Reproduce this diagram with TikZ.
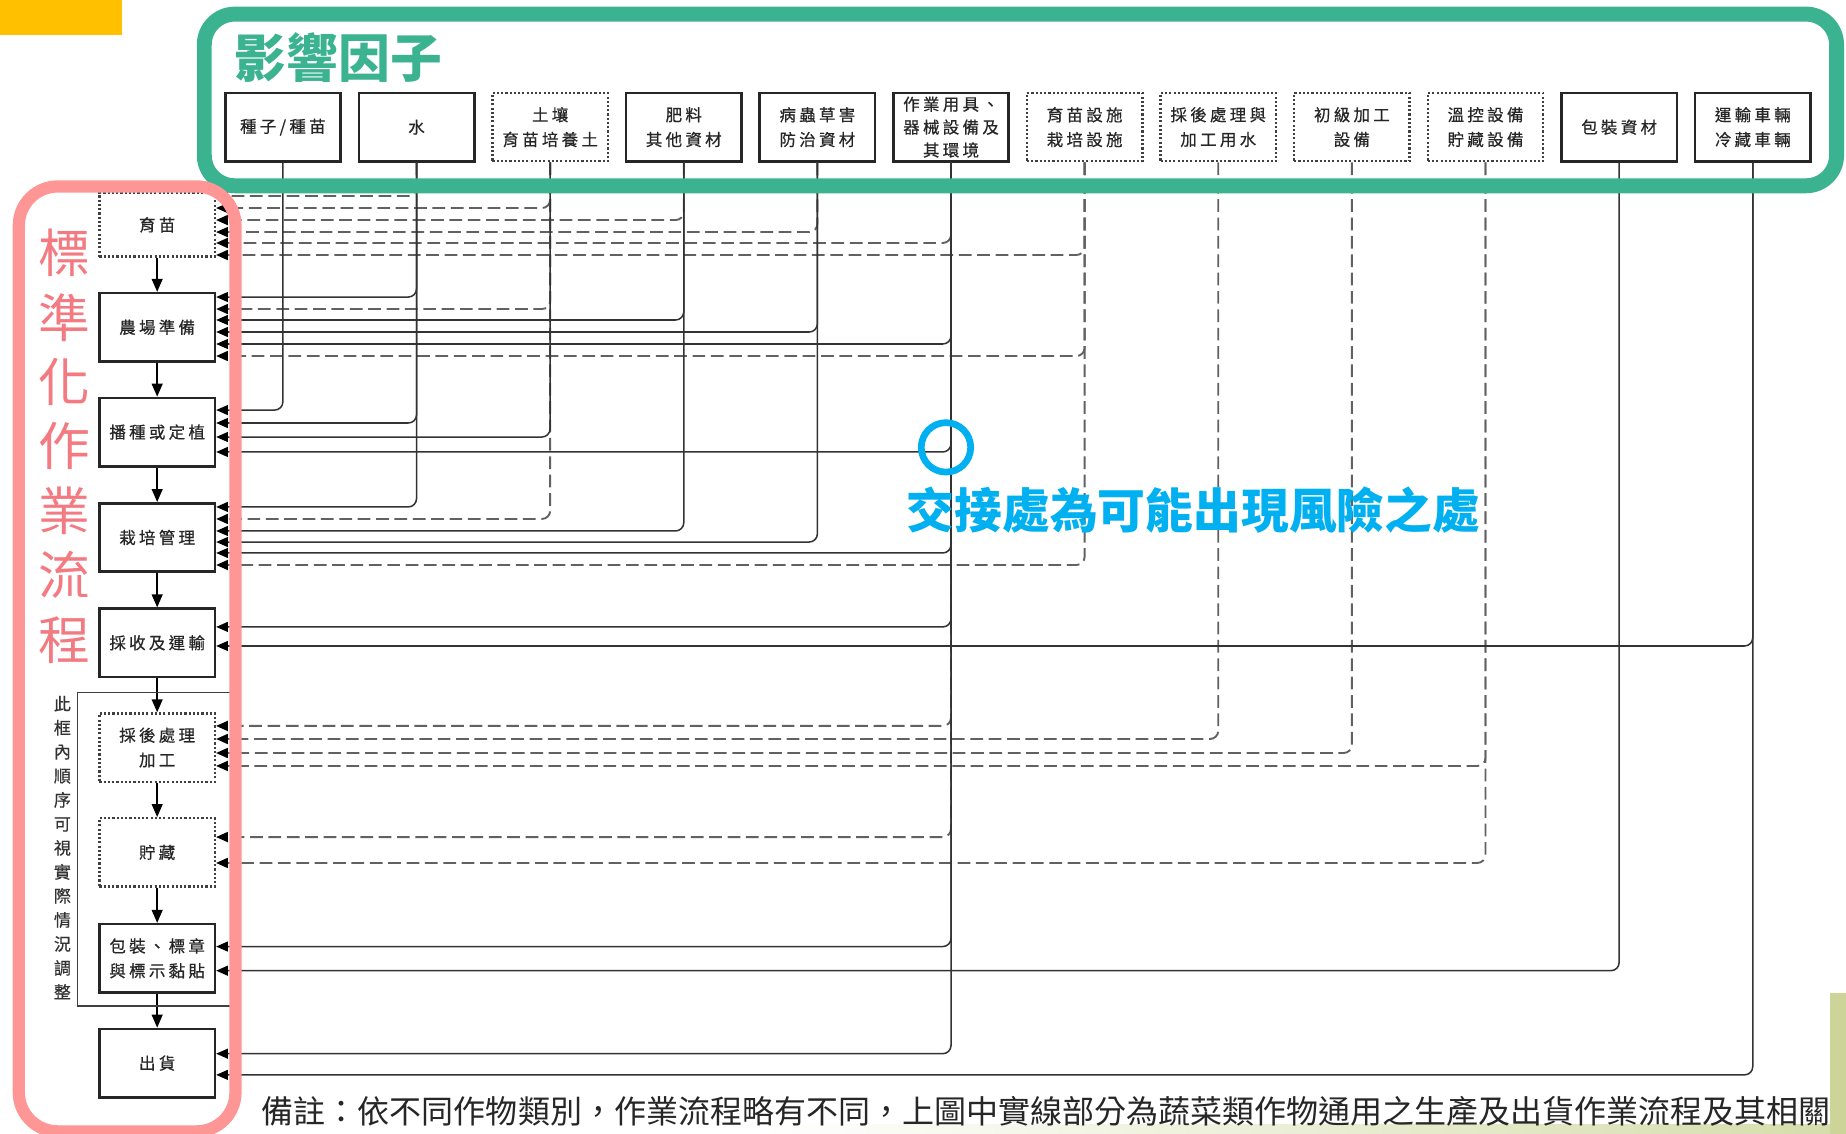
\documentclass[tikz,border=0pt]{standalone}
\usepackage{fontspec}
\setmainfont{Noto Sans CJK TC}
\newfontfamily\boxfont[LetterSpace=20,FakeBold=0.6]{Noto Sans CJK TC}
\usetikzlibrary{arrows.meta}
\definecolor{frgreen}{HTML}{3BB391}
\definecolor{frpink}{HTML}{FF9696}
\definecolor{pinktext}{HTML}{F47A82}
\definecolor{markblue}{HTML}{00B0F0}
\definecolor{topbar}{HTML}{FFC000}
\definecolor{olive}{HTML}{CCD597}
\newcommand\boxtext{\boxfont\fontsize{7}{10.5}\selectfont}
\newcommand\lnk[4]{\draw[#1] (#2.south) |- (#3.east |- 0,#4);}
\begin{document}
\begin{tikzpicture}[x=0.5pt,y=-0.5pt,
  fbox/.style={draw=black!85, line width=1.1pt, minimum width=49pt, minimum height=29pt, inner sep=0pt, align=center, font=\boxtext, text=black!85},
  fdot/.style={fbox, line width=1pt, draw=black!75, dash pattern=on 0.9pt off 0.9pt},
  sconn/.style={draw=black!80, line width=0.65pt, rounded corners=3.5pt, -{Triangle[length=5pt,width=4.2pt,color=black]}},
  dconn/.style={sconn, draw=black!62, line width=0.8pt, dash pattern=on 5.4pt off 2.4pt},
  flow/.style={draw=black, line width=0.65pt, -{Triangle[length=5.5pt,width=4.6pt]}}
]
\useasboundingbox (0,0) rectangle (1568,963);
\fill[white] (0,0) rectangle (1568,963);
% decorations
\fill[topbar] (0,0) rectangle (103.5,29.7);
\fill[olive] (1554.5,843.5) rectangle (1568,963);
\shade[left color=white, right color=olive!80] (640,955) rectangle (1554.5,963);

% factor boxes
\node[fbox] (f1) at (240.3,108) {種子/種苗};
\node[fbox] (f2) at (353.8,108) {水};
\node[fdot] (f3) at (467.3,108) {土壤\\育苗培養土};
\node[fbox] (f4) at (580.8,108) {肥料\\其他資材};
\node[fbox] (f5) at (694.3,108) {病蟲草害\\防治資材};
\node[fbox, font=\boxfont\fontsize{7}{9.75}\selectfont] (f6) at (807.8,108) {作業用具、\\器械設備及\\其環境};
\node[fdot] (f7) at (921.3,108) {育苗設施\\栽培設施};
\node[fdot] (f8) at (1034.8,108) {採後處理與\\加工用水};
\node[fdot] (f9) at (1148.3,108) {初級加工\\設備};
\node[fdot] (f10) at (1261.8,108) {溫控設備\\貯藏設備};
\node[fbox] (f11) at (1375.3,108) {包裝資材};
\node[fbox] (f12) at (1488.8,108) {運輸車輛\\冷藏車輛};

% process boxes
\node[fdot, minimum height=27pt] (p1) at (133.5,191) {育苗};
\node[fbox] (p2) at (133.5,278) {農場準備};
\node[fbox] (p3) at (133.5,367) {播種或定植};
\node[fbox] (p4) at (133.5,456.5) {栽培管理};
\node[fbox] (p5) at (133.5,546) {採收及運輸};
\node[fdot] (p6) at (133.5,635) {採後處理\\加工};
\node[fdot] (p7) at (133.5,724) {貯藏};
\node[fbox] (p8) at (133.5,814) {包裝、標章\\與標示黏貼};
\node[fbox] (p9) at (133.5,903) {出貨};

% dashed connectors
\lnk{dconn}{f2}{p1}{166.5}
\lnk{dconn}{f3}{p1}{176.7}
\lnk{dconn}{f4}{p1}{186.9}
\lnk{dconn}{f5}{p1}{197.1}
\lnk{dconn}{f6}{p1}{206.4}
\lnk{dconn}{f7}{p1}{216.6}
\lnk{dconn}{f3}{p2}{262.5}
\lnk{dconn}{f7}{p2}{302.4}
\lnk{dconn}{f3}{p4}{440.8}
\lnk{dconn}{f7}{p4}{479.9}
\lnk{dconn}{f6}{p6}{616.6}
\lnk{dconn}{f8}{p6}{627.7}
\lnk{dconn}{f9}{p6}{639.6}
\lnk{dconn}{f10}{p6}{650.6}
\lnk{dconn}{f6}{p7}{711}
\lnk{dconn}{f10}{p7}{733}
% solid connectors
\lnk{sconn}{f2}{p2}{252.3}
\lnk{sconn}{f4}{p2}{271.8}
\lnk{sconn}{f5}{p2}{282}
\lnk{sconn}{f6}{p2}{292.2}
\lnk{sconn}{f1}{p3}{348.3}
\lnk{sconn}{f2}{p3}{359.3}
\lnk{sconn}{f3}{p3}{371.2}
\lnk{sconn}{f6}{p3}{383.9}
\lnk{sconn}{f2}{p4}{430.6}
\lnk{sconn}{f4}{p4}{451}
\lnk{sconn}{f5}{p4}{460.4}
\lnk{sconn}{f6}{p4}{469.7}
\lnk{sconn}{f6}{p5}{532.5}
\lnk{sconn}{f12}{p5}{548.7}
\lnk{sconn}{f6}{p8}{804}
\lnk{sconn}{f11}{p8}{824.5}
\lnk{sconn}{f6}{p9}{895}
\lnk{sconn}{f12}{p9}{913}

% process flow
\draw[flow] (p1) -- (p2);
\draw[flow] (p2) -- (p3);
\draw[flow] (p3) -- (p4);
\draw[flow] (p4) -- (p5);
\draw[flow] (p5) -- (p6);
\draw[flow] (p6) -- (p7);
\draw[flow] (p7) -- (p8);
\draw[flow] (p8) -- (p9);

% bracket around adjustable steps
\draw[draw=black!75, line width=0.6pt] (200,588) -- (66,588) -- (66,854.5) -- (200,854.5);
\node[font=\boxfont\fontsize{7.2}{10.2}\selectfont, align=center, text=black!80, inner sep=0pt] (bnote) at (53,720) {此\\框\\內\\順\\序\\可\\視\\實\\際\\情\\況\\調\\整};

% frames
\draw[frgreen, line width=6.35pt, rounded corners=13pt] (173.5,12) rectangle (1560,157.8);
\draw[frpink, line width=5.2pt, rounded corners=16.5pt] (16,158.4) rectangle (200,961);

% titles
\node[anchor=west, inner sep=0pt, text=frgreen, font=\bfseries\fontsize{22}{26}\selectfont] (ttl) at (199,49) {影響因子};
\node[inner sep=0pt, align=center, text=pinktext, font=\fontsize{22}{27.35}\selectfont] (ptl) at (55,379) {標\\準\\化\\作\\業\\流\\程};

% risk marker
\node[circle, draw=markblue, line width=2.85pt, minimum size=21pt, inner sep=0pt] (ring) at (803.5,380) {};
\node[inner sep=0pt, text=markblue, font=\bfseries\fontsize{20.3}{24}\selectfont] (risk) at (1013.8,433) {交接處為可能出現風險之處};

% footnote
\node[anchor=west, inner sep=0pt, text=black!85, font=\fontsize{13.6}{16}\selectfont] (note) at (222,944) {備註：依不同作物類別，作業流程略有不同，上圖中實線部分為蔬菜類作物通用之生產及出貨作業流程及其相關};
\end{tikzpicture}
\end{document}
